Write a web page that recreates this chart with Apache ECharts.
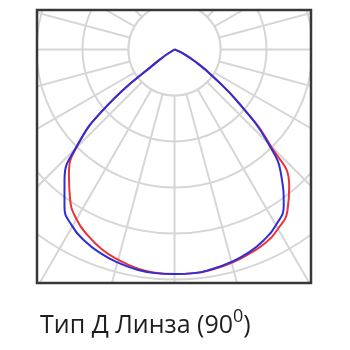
<!DOCTYPE html>
<html>
<head>
<meta charset="utf-8">
<script src="https://cdn.jsdelivr.net/npm/echarts@6/dist/echarts.min.js"></script>
<style>
  html, body { margin: 0; padding: 0; background: #fff; }
  #chart { width: 350px; height: 350px; }
</style>
</head>
<body>
<div id="chart"></div>
<script>
// angle from nadir, degrees
const angles = [0, 5, 10, 15, 20, 25, 30, 35, 40, 45, 50, 55, 60, 65, 70, 75];
// intensity in grid rings (1 ring = 1 unit)
const blueLeft  = [4.88, 4.88, 4.85, 4.79, 4.71, 4.60, 4.44, 4.17, 3.72, 3.05, 1.95, 0.45, 0, 0, 0, 0];
const blueRight = [4.88, 4.88, 4.84, 4.78, 4.70, 4.58, 4.41, 4.14, 3.62, 2.88, 1.85, 1.02, 0.50, 0.20, 0.04, 0];
const redLeft   = [4.88, 4.87, 4.82, 4.73, 4.62, 4.46, 4.26, 3.96, 3.57, 3.02, 1.95, 0.45, 0, 0, 0, 0];
const redRight  = [4.88, 4.88, 4.85, 4.80, 4.73, 4.65, 4.50, 4.28, 3.88, 2.95, 1.88, 1.02, 0.50, 0.20, 0.04, 0];

const titleText = 'Тип Д Линза (90';
const titleSup = '0';

function curve(left, right) {
  const pts = [];
  for (let i = angles.length - 1; i >= 0; i--) pts.push([right[i], -angles[i]]);
  for (let i = 1; i < angles.length; i++) pts.push([left[i], angles[i]]);
  return pts;
}

const gridColor = '#d6d6d6';
const cx = 174.5, cy = 49.5, ring = 46;

const chart = echarts.init(document.getElementById('chart'));
chart.setOption({
  animation: false,
  title: {
    text: '{a|' + titleText + '}{s|' + titleSup + '}{a|)}',
    left: 40,
    top: 308,
    padding: 0,
    textStyle: {
      rich: {
        a: { fontFamily: 'Open Sans', fontSize: 25, fontWeight: 'normal', color: '#1e1e1e', lineHeight: 36 },
        s: { fontFamily: 'Open Sans', fontSize: 18, fontWeight: 'normal', color: '#1e1e1e', lineHeight: 18, verticalAlign: 'top' }
      }
    }
  },
  polar: { center: [cx, cy], radius: ring * 6 },
  radiusAxis: {
    min: 0, max: 6, interval: 1,
    axisLine: { show: false }, axisTick: { show: false }, axisLabel: { show: false },
    splitLine: { show: true, lineStyle: { color: gridColor, width: 2 } }
  },
  angleAxis: {
    type: 'value', min: -180, max: 180, interval: 15,
    startAngle: 90, clockwise: true,
    axisLine: { show: false }, axisTick: { show: false }, axisLabel: { show: false },
    splitLine: { show: true, lineStyle: { color: gridColor, width: 2 } }
  },
  graphic: [
    // hub: radial lines start at the first ring
    { type: 'circle', z: 1, shape: { cx: cx, cy: cy, r: ring },
      style: { fill: '#fff', stroke: gridColor, lineWidth: 2 } },
    // clip the grid to the square frame
    { type: 'rect', z: 5, shape: { x: 0, y: 0, width: 350, height: 10 }, style: { fill: '#fff' } },
    { type: 'rect', z: 5, shape: { x: 0, y: 0, width: 37, height: 350 }, style: { fill: '#fff' } },
    { type: 'rect', z: 5, shape: { x: 311, y: 0, width: 39, height: 350 }, style: { fill: '#fff' } },
    { type: 'rect', z: 5, shape: { x: 0, y: 283, width: 350, height: 67 }, style: { fill: '#fff' } },
    { type: 'rect', z: 6, shape: { x: 37, y: 10, width: 274, height: 273 },
      style: { fill: 'none', stroke: '#383838', lineWidth: 2.5 } }
  ],
  series: [
    { type: 'line', coordinateSystem: 'polar', data: curve(redLeft, redRight),
      smooth: 0.5, showSymbol: false, lineStyle: { color: '#e8333a', width: 2 } },
    { type: 'line', coordinateSystem: 'polar', data: curve(blueLeft, blueRight),
      smooth: 0.5, showSymbol: false, lineStyle: { color: '#2e2ed8', width: 2 } }
  ]
});
</script>
</body>
</html>
